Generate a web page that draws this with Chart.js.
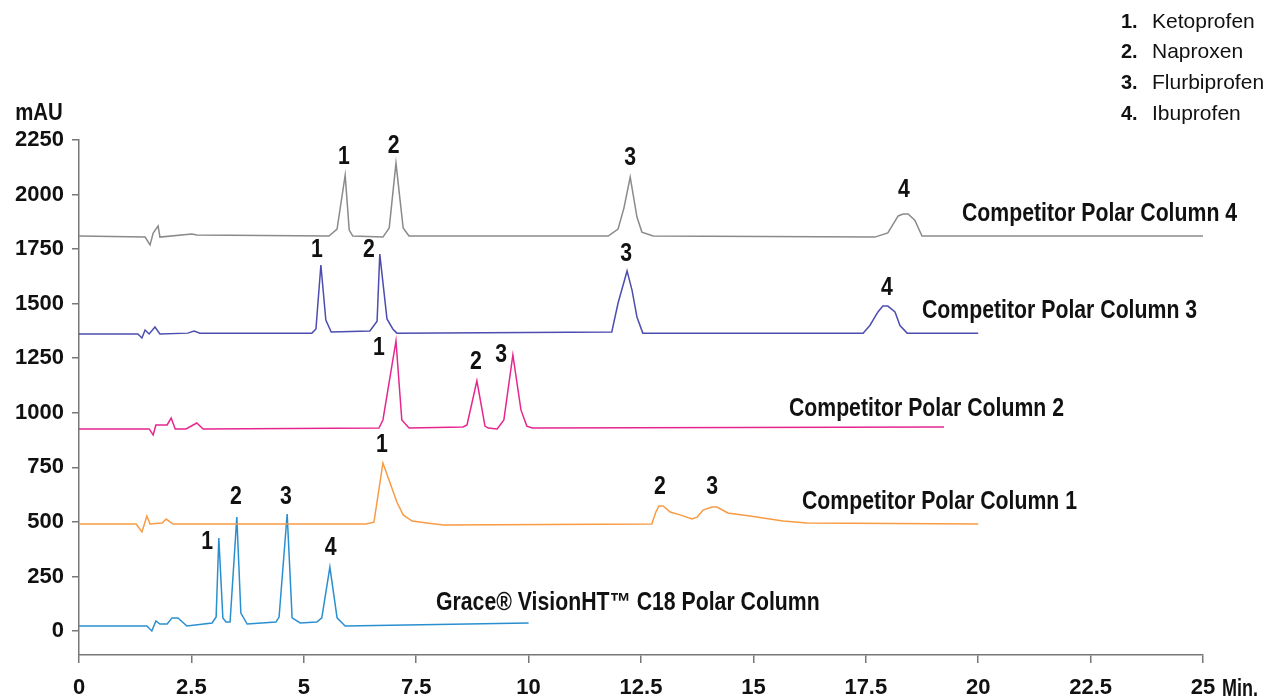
<!DOCTYPE html>
<html>
<head>
<meta charset="utf-8">
<script src="https://cdn.jsdelivr.net/npm/chart.js@4.4.1/dist/chart.umd.min.js"></script>
<style>
  html, body { margin: 0; padding: 0; background: #fff; }
  #wrap { width: 1264px; height: 697px; position: relative; }
</style>
</head>
<body>
<div id="wrap"><canvas id="chrom"></canvas></div>
<script>
'use strict';

// retention time (min), absorbance (mAU)
const col4Points = [
  [0, 1810], [1.47, 1805], [1.58, 1769], [1.65, 1824], [1.76, 1856], [1.80, 1805],
  [2.51, 1819], [2.62, 1815], [5.56, 1810], [5.74, 1842], [5.92, 2089], [6.01, 1837],
  [6.09, 1810], [6.76, 1805], [6.90, 1847], [7.05, 2144], [7.21, 1847], [7.34, 1810],
  [11.77, 1810], [11.99, 1842], [12.12, 1938], [12.26, 2080], [12.41, 1897], [12.52, 1828],
  [12.77, 1810], [17.70, 1805], [17.99, 1824], [18.22, 1902], [18.33, 1911], [18.44, 1911],
  [18.59, 1883], [18.75, 1810], [25.0, 1810],
];
const col3Points = [
  [0, 1361], [1.31, 1361], [1.40, 1343], [1.47, 1379], [1.56, 1361], [1.69, 1393],
  [1.80, 1361], [2.42, 1365], [2.56, 1375], [2.69, 1365], [5.18, 1365], [5.27, 1384],
  [5.38, 1677], [5.49, 1425], [5.61, 1370], [6.47, 1375], [6.63, 1420], [6.69, 1727],
  [6.85, 1430], [6.98, 1384], [7.07, 1365], [11.85, 1370], [11.99, 1503], [12.19, 1650],
  [12.30, 1562], [12.41, 1439], [12.54, 1365], [17.44, 1365], [17.59, 1400], [17.77, 1462],
  [17.88, 1489], [17.99, 1489], [18.15, 1462], [18.26, 1400], [18.42, 1365], [20.0, 1365],
];
const col2Points = [
  [0, 926], [1.56, 926], [1.65, 898], [1.71, 944], [1.96, 944], [2.05, 976], [2.14, 926],
  [2.38, 926], [2.62, 953], [2.76, 926], [6.67, 930], [6.76, 967], [7.05, 1329],
  [7.18, 967], [7.34, 930], [8.54, 935], [8.63, 944], [8.85, 1146], [9.03, 939],
  [9.10, 930], [9.30, 926], [9.45, 967], [9.65, 1265], [9.83, 1013], [9.96, 939],
  [10.08, 930], [19.24, 935],
];
const col1Points = [
  [0, 490], [1.27, 490], [1.40, 454], [1.51, 527], [1.58, 490], [1.85, 495],
  [1.94, 513], [2.09, 490], [6.38, 490], [6.56, 499], [6.76, 770], [7.07, 591],
  [7.21, 532], [7.41, 504], [7.74, 495], [8.10, 486], [12.74, 490], [12.83, 545],
  [12.90, 573], [12.99, 573], [13.15, 545], [13.37, 532], [13.63, 513], [13.75, 522],
  [13.88, 554], [14.08, 568], [14.19, 568], [14.43, 541], [14.92, 527], [15.66, 504],
  [16.19, 495], [20.0, 490],
];
const gracePoints = [
  [0, 23], [1.51, 23], [1.62, 0], [1.71, 46], [1.80, 32], [1.96, 32],
  [2.07, 60], [2.20, 60], [2.40, 23], [2.96, 37], [3.05, 64], [3.11, 426],
  [3.20, 60], [3.27, 41], [3.36, 41], [3.51, 522], [3.60, 82], [3.74, 32],
  [4.38, 41], [4.45, 64], [4.63, 536], [4.74, 60], [4.92, 37], [5.29, 41],
  [5.40, 60], [5.58, 293], [5.74, 60], [5.92, 23], [10.0, 37],
];

const seriesNames = [
  'Competitor Polar Column 4',
  'Competitor Polar Column 3',
  'Competitor Polar Column 2',
  'Competitor Polar Column 1',
  'Grace\u00AE VisionHT\u2122 C18 Polar Column',
];
// where each series name starts: [time, mAU]
const seriesNameAt = [[19.64, 1911], [18.75, 1466], [15.79, 1017], [16.08, 591], [7.94, 128]];

// peak numbers: [time, mAU, label]
const peakLabels = [
  [5.89, 2172, '1'], [7.0, 2222, '2'], [12.26, 2167, '3'], [18.35, 2021, '4'],
  [5.29, 1746, '1'], [6.45, 1746, '2'], [12.17, 1727, '3'], [17.97, 1572, '4'],
  [6.67, 1297, '1'], [8.83, 1233, '2'], [9.39, 1265, '3'],
  [6.74, 852, '1'], [12.92, 660, '2'], [14.08, 660, '3'],
  [2.85, 408, '1'], [3.49, 614, '2'], [4.60, 614, '3'], [5.60, 380, '4'],
];

const compoundNumbers = ['1.', '2.', '3.', '4.'];
const compoundNames = ['Ketoprofen', 'Naproxen', 'Flurbiprofen', 'Ibuprofen'];

const xTicks = [0, 2.5, 5, 7.5, 10, 12.5, 15, 17.5, 20, 22.5, 25];
const yTicks = [0, 250, 500, 750, 1000, 1250, 1500, 1750, 2000, 2250];

const COLORS = {
  col4:  '#8a8a8a',
  col3:  '#4d4daf',
  col2:  '#e5268f',
  col1:  '#f89b45',
  grace: '#2a8fcf',
  axis:  '#777777',
  text:  '#111111',
};

const SANS = '"Liberation Sans", Arial, Helvetica, sans-serif';

function toXY(points) {
  return points.map(([t, v]) => ({ x: t, y: v }));
}

function trace(points, color) {
  return {
    data: toXY(points),
    borderColor: color,
    borderWidth: 1.5,
    pointRadius: 0,
    tension: 0,
    fill: false,
  };
}

// bold text squeezed sideways to look like a condensed face
function narrowText(ctx, text, px, py, align, size, squeeze) {
  ctx.save();
  ctx.font = 'bold ' + size + 'px ' + SANS;
  ctx.textAlign = align;
  ctx.textBaseline = 'middle';
  ctx.translate(px, py);
  ctx.scale(squeeze, 1);
  ctx.fillText(text, 0, 0);
  ctx.restore();
}

const textPlugin = {
  id: 'chromText',
  afterDraw(chart) {
    const { ctx, chartArea } = chart;
    const x = chart.scales.x;
    const y = chart.scales.y;
    ctx.save();
    ctx.fillStyle = COLORS.text;

    peakLabels.forEach(([t, v, s]) => {
      narrowText(ctx, s, x.getPixelForValue(t), y.getPixelForValue(v), 'center', 25, 0.85);
    });

    seriesNames.forEach((name, i) => {
      const [t, v] = seriesNameAt[i];
      narrowText(ctx, name, x.getPixelForValue(t), y.getPixelForValue(v), 'left', 25, 0.85);
    });

    narrowText(ctx, 'mAU', chartArea.left - 40, chartArea.top - 27, 'center', 24, 0.85);
    narrowText(ctx, 'Min.', chartArea.right + 19, chartArea.bottom + 34, 'left', 24, 0.75);

    // compound key
    ctx.textBaseline = 'middle';
    ctx.textAlign = 'left';
    compoundNumbers.forEach((num, i) => {
      const ty = 22 + i * 30.7;
      ctx.font = 'bold 20px ' + SANS;
      ctx.fillText(num, 1121, ty);
      ctx.font = '21px ' + SANS;
      ctx.fillText(compoundNames[i], 1152, ty);
    });
    ctx.restore();
  },
};

const tickFont = { family: SANS, size: 22, weight: 'bold' };

new Chart(document.getElementById('chrom'), {
  type: 'line',
  data: {
    datasets: [
      trace(col4Points, COLORS.col4),
      trace(col3Points, COLORS.col3),
      trace(col2Points, COLORS.col2),
      trace(col1Points, COLORS.col1),
      trace(gracePoints, COLORS.grace),
    ],
  },
  options: {
    responsive: true,
    maintainAspectRatio: false,
    animation: false,
    layout: { padding: { top: 140, right: 61, left: 0, bottom: 0 } },
    plugins: {
      legend: { display: false },
      tooltip: { enabled: false },
    },
    scales: {
      x: {
        type: 'linear',
        min: 0,
        max: 25,
        afterBuildTicks: (s) => { s.ticks = xTicks.map(v => ({ value: v })); },
        afterFit: (s) => { s.height = 42; },
        ticks: { color: COLORS.text, font: tickFont, padding: 12, maxRotation: 0, callback: (v) => String(v) },
        grid: { drawOnChartArea: false, drawTicks: true, tickLength: 8, color: COLORS.axis, lineWidth: 1.5 },
        border: { display: true, color: COLORS.axis, width: 1.5 },
      },
      y: {
        type: 'linear',
        min: -110,
        max: 2250,
        afterBuildTicks: (s) => { s.ticks = yTicks.map(v => ({ value: v })); },
        afterFit: (s) => { s.width = 79; },
        ticks: { color: COLORS.text, font: tickFont, padding: 8, callback: (v) => String(v) },
        grid: { drawOnChartArea: false, drawTicks: true, tickLength: 7, color: COLORS.axis, lineWidth: 1.5 },
        border: { display: true, color: COLORS.axis, width: 1.5 },
      },
    },
  },
  plugins: [textPlugin],
});
</script>
</body>
</html>
